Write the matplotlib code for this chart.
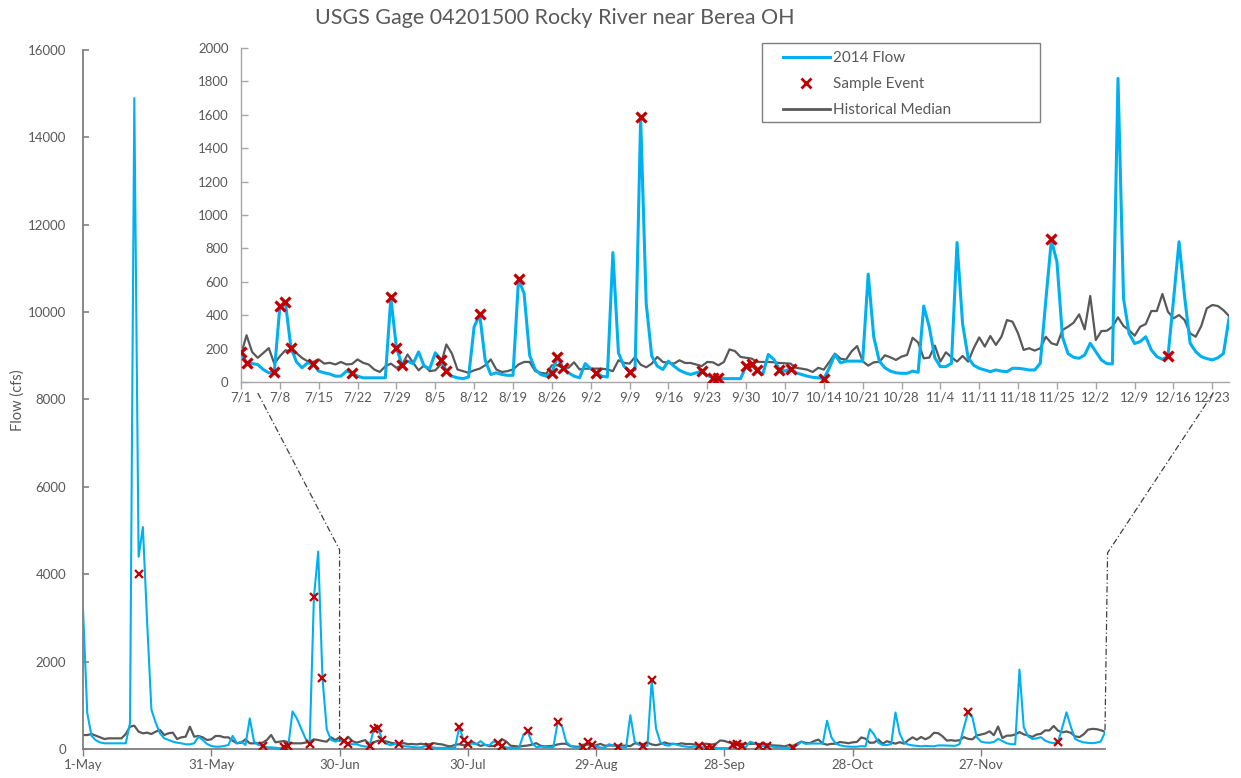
import matplotlib
matplotlib.use("Agg")
import matplotlib.pyplot as plt
from matplotlib.lines import Line2D
from matplotlib.patches import Rectangle
import numpy as np

plt.rcParams['font.family'] = ['Lato', 'DejaVu Sans']

# ---------------- data (daily, starting 1-May-2014) ----------------
title = "USGS Gage 04201500 Rocky River near Berea OH"

# 2014 daily flow, 1-May .. 30-Jun (cfs)
flow_may_jun = [3200, 820, 300, 200, 150, 130, 130, 130, 130, 130,
                130, 600, 14900, 4400, 5080, 2900, 900, 600, 360, 245,
                206, 168, 145, 130, 107, 107, 130, 282, 206, 115,
                69, 53, 53, 69, 92, 300, 130, 168, 92, 700,
                168, 92, 80, 38, 38, 30, 15, 55, 60, 860,
                700, 473, 244, 110, 3470, 4520, 1630, 450, 210, 170,
                200]

# 2014 daily flow, 1-Jul .. 26-Dec (cfs)
flow_jul_dec = [175, 115, 110, 105, 75, 55, 60, 450, 475, 205,
                120, 85, 115, 110, 65, 55, 48, 35, 35, 65,
                55, 35, 25, 25, 25, 25, 25, 505, 205, 105,
                125, 110, 180, 95, 80, 175, 135, 65, 35, 25,
                20, 30, 330, 405, 130, 45, 55, 45, 40, 40,
                615, 530, 160, 75, 45, 35, 55, 150, 85, 55,
                35, 25, 110, 80, 55, 35, 30, 775, 175, 95,
                60, 75, 1585, 470, 155, 95, 75, 125, 95, 70,
                55, 45, 55, 65, 40, 25, 22, 20, 20, 20,
                20, 95, 110, 70, 45, 165, 135, 75, 65, 80,
                55, 45, 35, 28, 25, 20, 85, 165, 115, 125,
                125, 125, 125, 646, 270, 125, 85, 65, 55, 52,
                52, 65, 58, 455, 330, 145, 92, 92, 112, 835,
                350, 145, 100, 82, 72, 62, 72, 65, 62, 82,
                82, 78, 72, 72, 112, 490, 850, 720, 270, 170,
                148, 142, 162, 232, 182, 132, 110, 108, 1818, 500,
                290, 230, 242, 271, 192, 152, 136, 152, 490, 840,
                511, 232, 182, 152, 140, 132, 145, 170, 380]

# historical median daily flow, 1-May .. 30-Jun (cfs)
median_may_jun = [320, 320, 343, 305, 267, 229, 244, 244, 244, 244,
                  343, 511, 534, 397, 359, 374, 343, 397, 435, 320,
                  359, 374, 229, 267, 282, 511, 282, 298, 267, 206,
                  221, 298, 298, 267, 267, 191, 130, 145, 221, 130,
                  130, 130, 145, 206, 320, 153, 168, 183, 153, 130,
                  130, 130, 145, 168, 221, 206, 183, 168, 267, 206,
                  267]

# historical median daily flow, 1-Jul .. 26-Dec (cfs)
median_jul_dec = [165, 280, 180, 145, 173, 203, 110, 154, 190, 183,
                  173, 144, 124, 120, 135, 110, 115, 105, 120, 105,
                  108, 135, 115, 105, 75, 60, 94, 110, 85, 100,
                  165, 115, 70, 100, 65, 70, 105, 225, 170, 75,
                  65, 55, 70, 80, 100, 135, 75, 60, 65, 75,
                  105, 120, 120, 65, 55, 50, 100, 100, 85, 85,
                  118, 75, 80, 80, 80, 80, 75, 65, 130, 115,
                  110, 150, 104, 88, 110, 150, 120, 115, 110, 130,
                  114, 114, 105, 95, 120, 118, 100, 120, 195, 185,
                  150, 145, 140, 120, 120, 120, 118, 114, 112, 110,
                  85, 80, 74, 60, 85, 74, 120, 170, 140, 134,
                  183, 215, 124, 98, 118, 120, 160, 148, 132, 152,
                  162, 265, 236, 142, 146, 218, 122, 178, 148, 122,
                  156, 122, 202, 267, 212, 275, 222, 271, 371, 361,
                  291, 192, 202, 188, 202, 271, 232, 222, 311, 331,
                  355, 405, 315, 515, 251, 305, 307, 331, 387, 335,
                  311, 277, 331, 347, 425, 425, 527, 421, 381, 401,
                  371, 291, 271, 335, 441, 461, 455, 430, 395]

# sample events: day index counted from 1-May-2014, measured flow (cfs)
sample_day = [13, 42, 47, 48, 53, 54, 56, 61, 62, 67, 68, 69, 70, 74, 81,
              88, 89, 90, 97, 98, 104, 111, 117, 118, 119, 125, 131, 133,
              144, 146, 147, 152, 153, 154, 158, 160, 166, 207, 228]
sample_flow = [4000, 80, 55, 60, 110, 3470, 1630, 177, 114, 60, 453, 477,
               203, 108, 54, 506, 203, 104, 134, 68, 407, 616, 54, 150, 84,
               54, 60, 1585, 64, 24, 24, 94, 108, 70, 74, 80, 20, 855, 158]

main_tick_days = [0, 30, 60, 90, 120, 150, 180, 210]
main_tick_labels = ["1-May", "31-May", "30-Jun", "30-Jul", "29-Aug",
                    "28-Sep", "28-Oct", "27-Nov"]
inset_start_day = 61  # 1-Jul
inset_tick_labels = ["7/1", "7/8", "7/15", "7/22", "7/29", "8/5", "8/12",
                     "8/19", "8/26", "9/2", "9/9", "9/16", "9/23", "9/30",
                     "10/7", "10/14", "10/21", "10/28", "11/4", "11/11",
                     "11/18", "11/25", "12/2", "12/9", "12/16", "12/23"]
legend_labels = ["2014 Flow", "Sample Event", "Historical Median"]

# ---------------- assemble ----------------
flow = np.array(flow_may_jun + flow_jul_dec, dtype=float)
median = np.array(median_may_jun + median_jul_dec, dtype=float)
days = np.arange(len(flow))
s_day = np.array(sample_day)
s_flow = np.array(sample_flow, dtype=float)

BLUE = "#00B0F0"
RED = "#C00000"
GRAY = "#595959"
TXT = "#595959"

W, H = 1241, 778
fig = plt.figure(figsize=(W / 100, H / 100), dpi=100)

def px(l, t, r, b):
    return [l / W, 1 - b / H, (r - l) / W, (b - t) / H]

# ---------------- main axes ----------------
ax = fig.add_axes(px(83, 50, 1105, 749))
ax.plot(days, median, color=GRAY, lw=1.6, zorder=2)
ax.plot(days, flow, color=BLUE, lw=1.5, zorder=3)
ax.plot(s_day, s_flow, linestyle="none", marker="x", color=RED,
        ms=5.5, mew=1.6, zorder=4)
ax.set_xlim(0, days[-1])
ax.set_ylim(0, 16000)
ax.set_yticks(np.arange(0, 16001, 2000))
ax.set_xticks(main_tick_days)
ax.set_xticklabels(main_tick_labels)
for s in ["top", "right"]:
    ax.spines[s].set_visible(False)
for s in ["left", "bottom"]:
    ax.spines[s].set_color("#7F7F7F")
    ax.spines[s].set_linewidth(1.3)
ax.tick_params(axis="y", direction="in", length=4, width=1.2,
               color="#7F7F7F", labelcolor=TXT, labelsize=9.5, pad=12)
ax.tick_params(axis="x", direction="out", length=5, width=1.0,
               color="#7F7F7F", labelcolor=TXT, labelsize=9.5, pad=2)
ax.patch.set_alpha(0)

# ---------------- inset axes ----------------
axi = fig.add_axes(px(241, 48, 1229, 382))
d_in = days[inset_start_day:] - inset_start_day
axi.plot(d_in, median[inset_start_day:], color=GRAY, lw=1.6, zorder=2)
axi.plot(d_in, flow[inset_start_day:], color=BLUE, lw=2.2, zorder=3)
m = s_day >= inset_start_day
axi.plot(s_day[m] - inset_start_day, s_flow[m], linestyle="none",
         marker="x", color=RED, ms=7, mew=2.3, zorder=4)
axi.set_xlim(0, d_in[-1])
axi.set_ylim(0, 2000)
axi.set_yticks(np.arange(0, 2001, 200))
axi.set_xticks(np.arange(len(inset_tick_labels)) * 7)
axi.set_xticklabels(inset_tick_labels)
for s in ["top", "right"]:
    axi.spines[s].set_visible(False)
for s in ["left", "bottom"]:
    axi.spines[s].set_color("#A6A6A6")
    axi.spines[s].set_linewidth(1.0)
axi.tick_params(axis="y", direction="in", length=5, width=1.0,
                color="#A6A6A6", labelcolor=TXT, labelsize=9.5, pad=9)
axi.tick_params(axis="x", direction="out", length=5, width=1.0,
                color="#A6A6A6", labelcolor=TXT, labelsize=9.5, pad=2)
axi.patch.set_alpha(0)

# ---------------- legend ----------------
fig.add_artist(Rectangle((762 / W, 1 - 122 / H), 278 / W, 79 / H,
                         transform=fig.transFigure, facecolor="white",
                         edgecolor="#7F7F7F", lw=1.0, zorder=5))
handles = [Line2D([], [], color=BLUE, lw=2.2),
           Line2D([], [], color=RED, marker="x", linestyle="none", ms=7, mew=2),
           Line2D([], [], color=GRAY, lw=2)]
leg = fig.legend(handles, legend_labels,
                 loc="upper left",
                 bbox_to_anchor=(783 / W, 1 - 51 / H),
                 frameon=False, fontsize=11,
                 handlelength=3.05, handletextpad=0.2, labelspacing=0.8,
                 borderpad=0.0, borderaxespad=0)
leg.set_zorder(6)
for t in leg.get_texts():
    t.set_color(TXT)

# ---------------- title / label ----------------
fig.text(555 / W, 1 - 18 / H, title, ha="center", va="center",
         fontsize=15.5, color=TXT)
fig.text(18 / W, 1 - 400 / H, "Flow (cfs)", ha="center", va="center",
         rotation=90, fontsize=10.5, color=TXT)

# ---------------- zoom connectors ----------------
to_fig = fig.transFigure.inverted()
def fig_pt(trans, xy):
    return to_fig.transform(trans.transform(xy))

start_l = fig_pt(axi.transAxes, (0.017, -0.033))
kink_l = fig_pt(ax.transData, (inset_start_day - 1, 4560))
end_l = fig_pt(ax.transData, (inset_start_day - 1, 0))
start_r = fig_pt(axi.transAxes, (0.984, -0.033))
kink_r = fig_pt(ax.transData, (days[-1] + 0.6, 4490))
end_r = fig_pt(ax.transData, (days[-1], flow[-1] + 50))
for pts in ([start_l, kink_l, end_l], [start_r, kink_r, end_r]):
    pts = np.array(pts)
    fig.add_artist(Line2D(pts[:, 0], pts[:, 1], transform=fig.transFigure,
                          color="#404040", lw=0.9, linestyle=(0, (5, 2, 1, 2))))

fig.savefig("out.png", dpi=100)
